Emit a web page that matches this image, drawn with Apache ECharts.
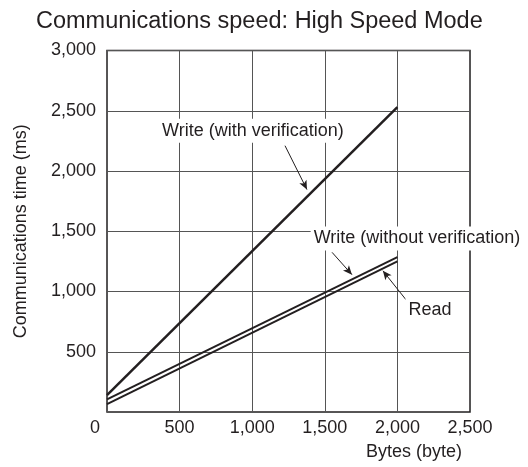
<!DOCTYPE html>
<html>
<head>
<meta charset="utf-8">
<script src="https://cdn.jsdelivr.net/npm/echarts@6/dist/echarts.min.js"></script>
<style>
  html, body { margin: 0; padding: 0; background: #ffffff; }
  #chart { width: 528px; height: 467px; }
</style>
</head>
<body>
<div id="chart"></div>
<script>
// Transfer size in bytes and the communications time for each operation
const bytes = [0, 2000];
const writeWithVerification = [140, 2530];
const writeWithoutVerification = [105, 1285];
const readTime = [65, 1250];

// Axis ranges and tick spacing
const xMax = 2500, xStep = 500;
const yMax = 3000, yStep = 500;

// Callout texts: [label, x, y] in data units, and their pointer lines
const callouts = [
  ['Write (with verification)', 1005, 2334],
  ['Write (without verification)', 2135, 1440],
  ['Read', 2224, 844]
];
const pointers = [
  [[1226, 2210], [1377, 1846]],
  [[1550, 1325], [1687, 1140]],
  [[2073, 911], [1900, 1172]]
];

const ink = '#231f20';
const fontFamily = '"Liberation Sans", Arial, sans-serif';
const fs = 18;
const fmt = v => v.toLocaleString('en-US');

const pairs = ys => bytes.map((b, i) => [b, ys[i]]);

const chart = echarts.init(document.getElementById('chart'), null, { renderer: 'canvas' });
chart.setOption({
  animation: false,
  backgroundColor: '#ffffff',
  textStyle: { fontFamily },
  title: {
    text: 'Communications speed: High Speed Mode',
    left: 31,
    top: 5,
    textStyle: { fontSize: 23.5, fontWeight: 'normal', color: ink, fontFamily }
  },
  grid: {
    left: 107, right: 58, top: 50.5, bottom: 55,
    show: true, borderColor: ink, borderWidth: 1.5, backgroundColor: 'transparent'
  },
  xAxis: {
    type: 'value',
    min: 0, max: xMax, interval: xStep,
    name: 'Bytes (byte)',
    nameLocation: 'end',
    nameGap: -8,
    nameTextStyle: {
      fontSize: fs, color: ink, align: 'right', verticalAlign: 'top',
      padding: [31, 0, 0, 0]
    },
    axisLine: { show: false },
    axisTick: { show: false },
    splitLine: { show: true, lineStyle: { color: '#555555', width: 1 } },
    axisLabel: {
      margin: 7,
      fontSize: fs,
      color: ink,
      formatter: v => v === 0 ? '{z|0}' : fmt(v),
      rich: { z: { fontSize: fs, color: ink, padding: [0, 24, 0, 0] } }
    }
  },
  yAxis: {
    type: 'value',
    min: 0, max: yMax, interval: yStep,
    name: 'Communications time (ms)',
    nameLocation: 'middle',
    nameGap: 77,
    nameTextStyle: { fontSize: fs, color: ink },
    axisLine: { show: false },
    axisTick: { show: false },
    splitLine: { show: true, lineStyle: { color: '#555555', width: 1 } },
    axisLabel: {
      margin: 11,
      fontSize: fs,
      color: ink,
      showMinLabel: false,
      formatter: v => fmt(v)
    }
  },
  series: [
    {
      name: 'Write (with verification)',
      type: 'line',
      data: pairs(writeWithVerification),
      symbol: 'none',
      lineStyle: { color: ink, width: 2.5 },
      z: 3
    },
    {
      name: 'Write (without verification)',
      type: 'line',
      data: pairs(writeWithoutVerification),
      symbol: 'none',
      lineStyle: { color: ink, width: 2 },
      z: 3
    },
    {
      name: 'Read',
      type: 'line',
      data: pairs(readTime),
      symbol: 'none',
      lineStyle: { color: ink, width: 2 },
      z: 3,
      markLine: {
        silent: true,
        symbol: ['none', 'arrow'],
        symbolSize: [6, 9],
        label: { show: false },
        lineStyle: { color: ink, width: 1, type: 'solid' },
        data: pointers.map(([a, b]) => [{ coord: a }, { coord: b }])
      },
      markPoint: {
        silent: true,
        symbol: 'rect',
        symbolSize: 0,
        data: callouts.map(([text, x, y]) => ({
          coord: [x, y],
          value: text,
          label: {
            show: true,
            position: 'inside',
            formatter: text,
            fontSize: fs,
            color: ink,
            backgroundColor: '#ffffff',
            padding: [3, 3, 3, 3]
          }
        }))
      }
    }
  ]
});
</script>
</body>
</html>
